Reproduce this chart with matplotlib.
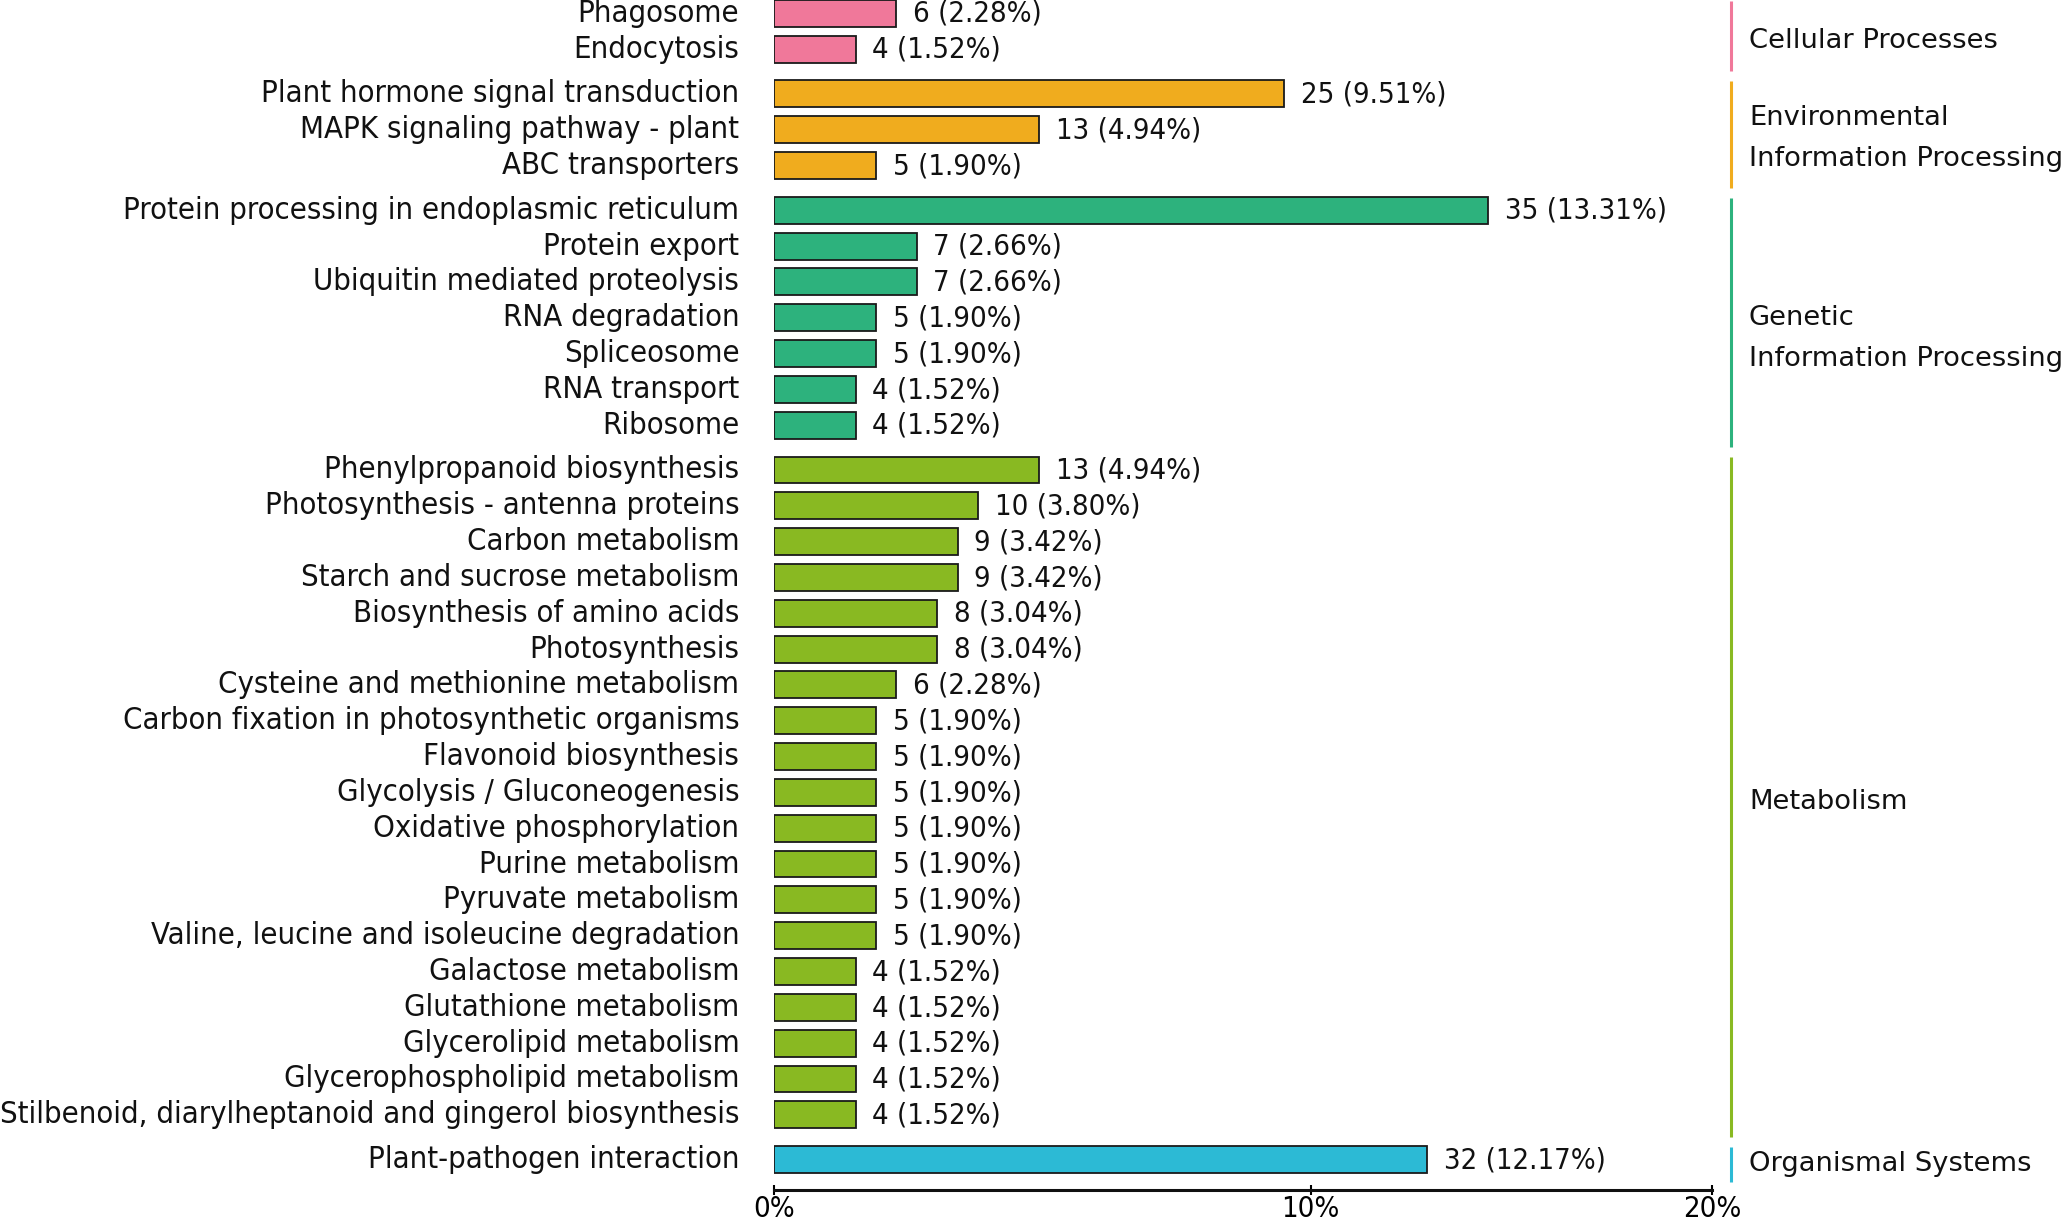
import matplotlib
matplotlib.use('Agg')
import matplotlib.pyplot as plt
import matplotlib.transforms as mtransforms

pathways = [
    "Phagosome", "Endocytosis",
    "Plant hormone signal transduction", "MAPK signaling pathway - plant", "ABC transporters",
    "Protein processing in endoplasmic reticulum", "Protein export", "Ubiquitin mediated proteolysis",
    "RNA degradation", "Spliceosome", "RNA transport", "Ribosome",
    "Phenylpropanoid biosynthesis", "Photosynthesis - antenna proteins", "Carbon metabolism",
    "Starch and sucrose metabolism", "Biosynthesis of amino acids", "Photosynthesis",
    "Cysteine and methionine metabolism", "Carbon fixation in photosynthetic organisms",
    "Flavonoid biosynthesis", "Glycolysis / Gluconeogenesis", "Oxidative phosphorylation",
    "Purine metabolism", "Pyruvate metabolism", "Valine, leucine and isoleucine degradation",
    "Galactose metabolism", "Glutathione metabolism", "Glycerolipid metabolism",
    "Glycerophospholipid metabolism", "Stilbenoid, diarylheptanoid and gingerol biosynthesis",
    "Plant-pathogen interaction",
]
counts = [6, 4, 25, 13, 5, 35, 7, 7, 5, 5, 4, 4,
          13, 10, 9, 9, 8, 8, 6, 5, 5, 5, 5, 5, 5, 5, 4, 4, 4, 4, 4, 32]
percents = [2.28, 1.52, 9.51, 4.94, 1.90, 13.31, 2.66, 2.66, 1.90, 1.90, 1.52, 1.52,
            4.94, 3.80, 3.42, 3.42, 3.04, 3.04, 2.28, 1.90, 1.90, 1.90, 1.90, 1.90, 1.90, 1.90,
            1.52, 1.52, 1.52, 1.52, 1.52, 12.17]
group_index = [0, 0, 1, 1, 1, 2, 2, 2, 2, 2, 2, 2,
               3, 3, 3, 3, 3, 3, 3, 3, 3, 3, 3, 3, 3, 3, 3, 3, 3, 3, 3, 4]
group_labels = ["Cellular Processes", "Environmental\nInformation Processing",
                "Genetic\nInformation Processing", "Metabolism", "Organismal Systems"]
group_colors = ["#F0789A", "#F0AC1E", "#2DB27D", "#89B922", "#2CBAD5"]
tick_labels = ["0%", "10%", "20%"]
x_max = 17.48

fig = plt.figure(figsize=(20.67, 12.19), dpi=100)
ax = fig.add_axes([774 / 2067, 29 / 1219, (1712 - 774) / 2067, 1190 / 1219])

label_font = dict(family=["DejaVu Sans"], fontstretch="condensed")

ypos = [i + 0.25 * g for i, g in enumerate(group_index)]
colors = [group_colors[g] for g in group_index]
ax.barh(ypos, percents, height=0.75, color=colors, edgecolor="#1a1a1a", linewidth=1.3, zorder=3)

for y, p, c in zip(ypos, percents, counts):
    ax.annotate(f"{c} ({p:.2f}%)", xy=(p, y), xytext=(12, -0.5), textcoords="offset points",
                ha="left", va="center", fontsize=21, color="#111111", **label_font)

ax.set_xlim(0, x_max)
ax.set_ylim(32.85, -0.37)
ax.set_yticks(ypos)
ax.set_yticklabels(pathways, fontsize=22.2, color="#111111", va="center", **label_font)
ax.tick_params(axis="y", length=0, pad=25)
ax.set_xticks([0, 10, x_max])
ax.set_xticklabels(tick_labels, fontsize=21, **label_font)
ax.tick_params(axis="x", length=7, width=1.5, direction="inout", pad=0)
for s in ["top", "right", "left"]:
    ax.spines[s].set_visible(False)
ax.spines["bottom"].set_linewidth(2.2)
ax.spines["bottom"].set_color("#111111")

label_shift = [0.15, 0.12, 0.45, 0.12, 0.0]
trans = mtransforms.blended_transform_factory(ax.transAxes, ax.transData)
for g, (lab, col) in enumerate(zip(group_labels, group_colors)):
    ys = [y for y, gi in zip(ypos, group_index) if gi == g]
    top = min(ys) - 0.35
    bot = max(ys) + 0.62
    ax.plot([1.0203, 1.0203], [top, bot], color=col, lw=2.2, transform=trans,
            clip_on=False, solid_capstyle="butt")
    ax.text(1.0394, (top + bot) / 2 + label_shift[g], lab, transform=trans, ha="left",
            va="center", fontsize=19.7, color="#111111", linespacing=1.75,
            family=["DejaVu Sans"])

fig.savefig("out.png", dpi=100)
